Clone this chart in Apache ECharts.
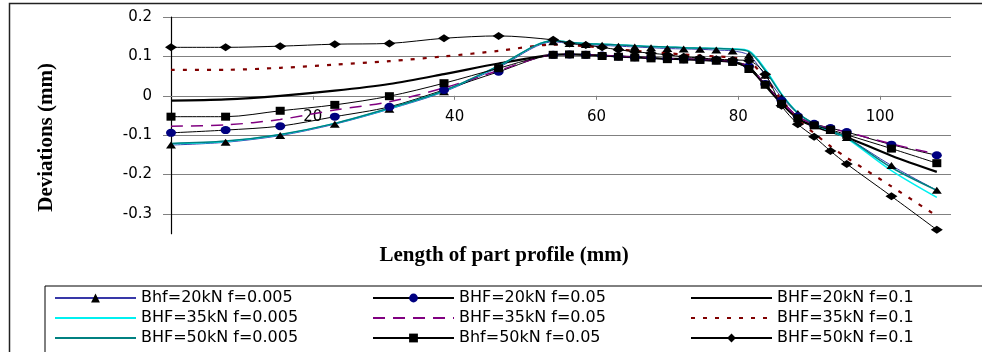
<!DOCTYPE html>
<html>
<head>
<meta charset="utf-8">
<script src="https://cdn.jsdelivr.net/npm/echarts@6/dist/echarts.min.js"></script>
<style>
html,body{margin:0;padding:0;background:#fff;}
#c{width:982px;height:352px;}
</style>
</head>
<body>
<div id="c"></div>
<script>
// Length of part profile (mm) at each node
const X = [0, 7.7, 15.4, 23.1, 30.8, 38.5, 46.2, 53.9, 56.2, 58.5, 60.8, 63.1, 65.4, 67.7, 70.0, 72.3, 74.6, 76.9, 79.2, 81.5, 83.8, 86.1, 88.4, 90.7, 93.0, 95.3, 101.6, 108.0];

const names = ['Bhf=20kN f=0.005', 'BHF=20kN f=0.05', 'BHF=20kN f=0.1',
               'BHF=35kN f=0.005', 'BHF=35kN f=0.05', 'BHF=35kN f=0.1',
               'BHF=50kN f=0.005', 'Bhf=50kN f=0.05', 'BHF=50kN f=0.1'];

// Deviations (mm)
const bhf20_f0005 = [-0.125, -0.118, -0.101, -0.072, -0.034, 0.010, 0.072, 0.137, 0.133, 0.130, 0.128, 0.126, 0.124, 0.122, 0.120, 0.119, 0.118, 0.116, 0.114, 0.103, 0.052, -0.004, -0.045, -0.070, -0.088, -0.106, -0.177, -0.240];
const bhf20_f005  = [-0.094, -0.087, -0.077, -0.053, -0.028, 0.015, 0.061, 0.104, 0.105, 0.104, 0.102, 0.100, 0.098, 0.096, 0.094, 0.093, 0.092, 0.090, 0.087, 0.075, 0.030, -0.012, -0.052, -0.071, -0.082, -0.092, -0.124, -0.151];
const bhf20_f01   = [-0.012, -0.009, 0.000, 0.013, 0.030, 0.055, 0.082, 0.104, 0.105, 0.104, 0.102, 0.100, 0.098, 0.096, 0.094, 0.093, 0.091, 0.089, 0.086, 0.070, 0.026, -0.020, -0.058, -0.078, -0.091, -0.105, -0.152, -0.193];
const bhf35_f0005 = [-0.122, -0.116, -0.099, -0.070, -0.032, 0.012, 0.075, 0.140, 0.136, 0.133, 0.131, 0.129, 0.127, 0.125, 0.124, 0.122, 0.121, 0.120, 0.119, 0.114, 0.068, 0.005, -0.043, -0.072, -0.090, -0.108, -0.190, -0.258];
const bhf35_f005  = [-0.077, -0.074, -0.060, -0.036, -0.015, 0.020, 0.064, 0.104, 0.105, 0.104, 0.102, 0.100, 0.098, 0.096, 0.094, 0.093, 0.092, 0.090, 0.087, 0.074, 0.028, -0.014, -0.053, -0.072, -0.083, -0.092, -0.122, -0.148];
const bhf35_f01   = [0.066, 0.066, 0.071, 0.079, 0.088, 0.100, 0.114, 0.130, 0.128, 0.126, 0.122, 0.118, 0.114, 0.111, 0.108, 0.105, 0.102, 0.100, 0.097, 0.088, 0.045, -0.010, -0.060, -0.095, -0.128, -0.157, -0.230, -0.305];
const bhf50_f0005 = [-0.121, -0.115, -0.098, -0.070, -0.031, 0.013, 0.076, 0.140, 0.136, 0.133, 0.131, 0.129, 0.127, 0.125, 0.124, 0.122, 0.121, 0.120, 0.118, 0.112, 0.064, 0.003, -0.044, -0.071, -0.089, -0.106, -0.182, -0.240];
const bhf50_f005  = [-0.053, -0.053, -0.038, -0.023, -0.001, 0.032, 0.070, 0.104, 0.105, 0.104, 0.101, 0.099, 0.097, 0.095, 0.093, 0.092, 0.091, 0.089, 0.086, 0.068, 0.028, -0.020, -0.057, -0.075, -0.086, -0.099, -0.134, -0.171];
const bhf50_f01   = [0.123, 0.123, 0.126, 0.131, 0.133, 0.146, 0.152, 0.142, 0.133, 0.129, 0.123, 0.117, 0.112, 0.108, 0.104, 0.099, 0.096, 0.093, 0.091, 0.089, 0.055, -0.025, -0.072, -0.104, -0.140, -0.173, -0.255, -0.340];

const xTicks = [20, 40, 60, 80, 100];
const yTicks = [-0.3, -0.2, -0.1, 0, 0.1, 0.2];
const Y_MIN = -0.35, Y_MAX = 0.2;

const pts = ys => X.map((x, i) => [x, ys[i]]);

function mk(name, ys, o) {
  return Object.assign({
    name: name,
    type: 'line',
    data: pts(ys),
    smooth: 0.3,
    animation: false,
    symbol: 'none'
  }, o);
}

const series = [
  mk(names[0], bhf20_f0005, {symbol: 'triangle', symbolSize: [10, 7], showSymbol: true,
     itemStyle: {color: '#000'}, lineStyle: {color: '#3838a8', width: 1}}),
  mk(names[1], bhf20_f005, {symbol: 'circle', symbolSize: [10, 8], showSymbol: true,
     itemStyle: {color: '#000080'}, lineStyle: {color: '#000', width: 1}}),
  mk(names[2], bhf20_f01, {itemStyle: {color: '#000'}, lineStyle: {color: '#000', width: 2.2}}),
  mk(names[3], bhf35_f0005, {itemStyle: {color: '#00ffff'}, lineStyle: {color: '#00f0f0', width: 1.5}}),
  mk(names[4], bhf35_f005, {itemStyle: {color: '#800080'}, lineStyle: {color: '#800080', width: 1.5, type: [12, 8]}}),
  mk(names[5], bhf35_f01, {itemStyle: {color: '#800000'}, lineStyle: {color: '#800000', width: 2.2, type: [4, 8]}}),
  mk(names[6], bhf50_f0005, {itemStyle: {color: '#008080'}, lineStyle: {color: '#008080', width: 1.5}}),
  mk(names[7], bhf50_f005, {symbol: 'rect', symbolSize: [9, 8], showSymbol: true,
     itemStyle: {color: '#000'}, lineStyle: {color: '#000', width: 1}}),
  mk(names[8], bhf50_f01, {symbol: 'diamond', symbolSize: [12, 8], showSymbol: true,
     itemStyle: {color: '#000'}, lineStyle: {color: '#000', width: 1}})
];

const noMarker = {2: 1, 3: 1, 4: 1, 5: 1, 6: 1};
const legendData = names.map((n, i) => noMarker[i]
  ? {name: n, itemStyle: {color: 'rgba(0,0,0,0)', borderColor: 'rgba(0,0,0,0)', borderWidth: 0, opacity: 0}}
  : {name: n});

const GRID_H = 216.7;
// move the x axis up from the grid bottom to the y = 0 line
const zeroOffset = -GRID_H * (0 - Y_MIN) / (Y_MAX - Y_MIN);

const chart = echarts.init(document.getElementById('c'), null, {renderer: 'canvas'});
chart.setOption({
  animation: false,
  backgroundColor: '#fff',
  grid: {left: 171, top: 17, width: 780, height: GRID_H, containLabel: false, outerBoundsMode: 'none'},
  xAxis: {
    type: 'value', min: 0, max: 110,
    offset: zeroOffset,
    axisLine: {show: true, onZero: false, lineStyle: {color: '#808080', width: 1}},
    axisTick: {show: true, length: 4, customValues: xTicks, lineStyle: {color: '#808080'}},
    axisLabel: {customValues: xTicks, margin: 14, fontFamily: 'DejaVu Sans', fontSize: 15, color: '#000',
                formatter: v => String(v)},
    splitLine: {show: false},
    name: 'Length of part profile (mm)', nameLocation: 'middle', nameGap: 149,
    nameTextStyle: {fontFamily: 'Liberation Serif', fontWeight: 'bold', fontSize: 21, color: '#000',
                    padding: [0, 114, 0, 0]}
  },
  yAxis: {
    type: 'value', min: Y_MIN, max: Y_MAX,
    axisLine: {show: true, onZero: false, lineStyle: {color: '#000', width: 1.2}},
    axisTick: {show: true, length: 8, customValues: yTicks, lineStyle: {color: '#808080'}},
    axisLabel: {customValues: yTicks, margin: 19, fontFamily: 'DejaVu Sans', fontSize: 15, color: '#000',
                formatter: v => String(Math.round(v * 10) / 10)},
    splitLine: {show: true, lineStyle: {color: '#808080', width: 1}},
    name: 'Deviations (mm)', nameLocation: 'middle', nameGap: 114,
    nameTextStyle: {fontFamily: 'Liberation Serif', fontWeight: 'bold', fontSize: 21, color: '#000',
                    padding: [0, 24, 0, 0]}
  },
  legend: {
    show: true, left: 45, top: 286, width: 952, orient: 'horizontal',
    itemWidth: 81, itemHeight: 11, itemGap: 4,
    padding: [4, 40, 30, 9],
    borderColor: '#000', borderWidth: 1,
    selectedMode: false,
    textStyle: {fontFamily: 'DejaVu Sans', fontSize: 16, color: '#000', width: 227, lineHeight: 16},
    data: legendData
  },
  graphic: [{
    type: 'rect', silent: true, z: -10,
    shape: {x: 9.5, y: 3.5, width: 1100, height: 500},
    style: {fill: 'none', stroke: '#222', lineWidth: 1.5}
  }],
  series: series
});
</script>
</body>
</html>
